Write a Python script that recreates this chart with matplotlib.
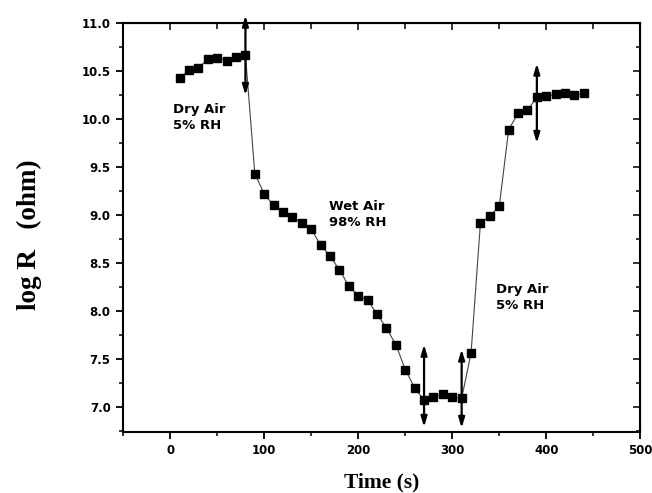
import matplotlib
matplotlib.use('Agg')
import matplotlib.pyplot as plt
from matplotlib.ticker import MultipleLocator

# time (s) and log R (ohm)
time = [10, 20, 30, 40, 50, 60, 70, 80,
        90, 100, 110, 120, 130, 140, 150, 160, 170, 180, 190, 200,
        210, 220, 230, 240, 250, 260, 270, 280, 290, 300, 310,
        320, 330, 340, 350, 360, 370, 380, 390, 400, 410, 420, 430, 440]
log_r = [10.43, 10.51, 10.53, 10.63, 10.64, 10.61, 10.65, 10.67,
         9.43, 9.22, 9.10, 9.03, 8.98, 8.92, 8.85, 8.69, 8.57, 8.43, 8.26, 8.16,
         8.11, 7.97, 7.82, 7.65, 7.39, 7.20, 7.07, 7.10, 7.13, 7.10, 7.09,
         7.56, 8.92, 8.99, 9.09, 9.89, 10.06, 10.09, 10.23, 10.24, 10.26, 10.27, 10.25, 10.27]

# switching marks (double arrows): x, top, bottom
arrow_x = [80, 270, 310, 390]
arrow_top = [11.08, 7.65, 7.60, 10.58]
arrow_bottom = [10.25, 6.79, 6.78, 9.75]

labels = ['Dry Air\n5% RH', 'Wet Air\n98% RH', 'Dry Air\n5% RH']
label_x = [3, 169, 347]
label_y = [10.17, 9.16, 8.29]

fig = plt.figure(figsize=(6.52, 4.93), dpi=100)
ax = fig.add_axes([0.189, 0.124, 0.793, 0.829])

ax.plot(time, log_r, color='#444444', lw=0.8, marker='s', markersize=5.3,
        markerfacecolor='black', markeredgecolor='black')

for x, top, bot in zip(arrow_x, arrow_top, arrow_bottom):
    ax.annotate('', xy=(x, top), xytext=(x, bot), annotation_clip=False,
                arrowprops=dict(arrowstyle='<|-|>,head_length=0.6,head_width=0.18',
                                color='black', lw=1.6, shrinkA=0, shrinkB=0))

for txt, x, y in zip(labels, label_x, label_y):
    ax.text(x, y, txt, ha='left', va='top', fontsize=9.5, fontweight='bold',
            family='DejaVu Sans', linespacing=1.3)

ax.set_xlim(-50, 500)
ax.set_ylim(6.74, 11.0)
ax.xaxis.set_major_locator(MultipleLocator(100))
ax.xaxis.set_minor_locator(MultipleLocator(50))
ax.yaxis.set_major_locator(MultipleLocator(0.5))
ax.yaxis.set_minor_locator(MultipleLocator(0.25))
ax.yaxis.set_major_formatter(plt.FormatStrFormatter('%.1f'))

ax.tick_params(which='major', direction='out', length=5, width=1.3, labelsize=8.5, pad=4)
ax.tick_params(which='minor', direction='out', length=3, width=1.1)
for lab in ax.get_xticklabels() + ax.get_yticklabels():
    lab.set_fontweight('bold')
    lab.set_family('DejaVu Sans')

for s in ax.spines.values():
    s.set_linewidth(1.5)

top = ax.secondary_xaxis('top')
top.xaxis.set_major_locator(MultipleLocator(100))
top.xaxis.set_minor_locator(MultipleLocator(50))
top.tick_params(which='both', direction='in', labeltop=False, width=1.1)
top.tick_params(which='major', length=5)
top.tick_params(which='minor', length=4)
right = ax.secondary_yaxis('right')
right.yaxis.set_major_locator(MultipleLocator(0.5))
right.yaxis.set_minor_locator(MultipleLocator(0.25))
right.tick_params(which='both', direction='in', labelright=False, width=1.1)
right.tick_params(which='major', length=5)
right.tick_params(which='minor', length=3)

ax.set_xlabel('Time (s)', fontsize=15.5, fontweight='bold', family='Liberation Serif', labelpad=11)
ax.set_ylabel('log R   (ohm)', fontsize=19.5, fontweight='bold', family='Liberation Serif')
ax.yaxis.set_label_coords(-0.157, 0.482)

fig.savefig('out.png', dpi=100)
